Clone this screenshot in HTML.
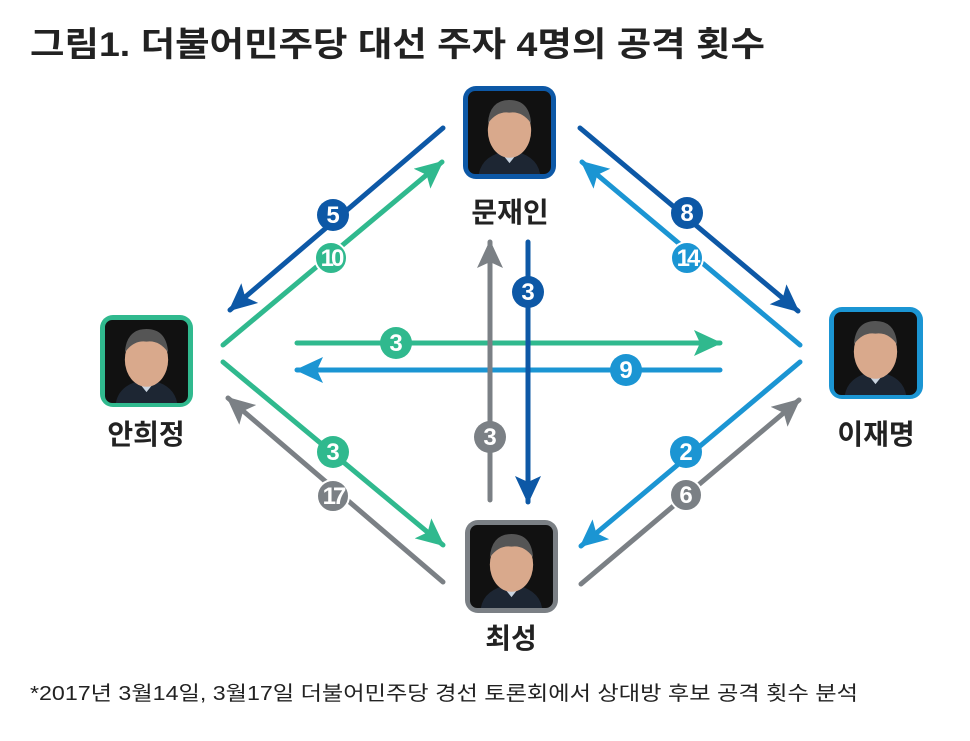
<!DOCTYPE html>
<html><head><meta charset="utf-8"><style>
html,body{margin:0;padding:0;background:#fff;}
svg{display:block;}
text{font-family:"Liberation Sans","Noto Sans CJK KR",sans-serif;}
</style></head><body>
<svg width="970" height="741" viewBox="0 0 970 741" xmlns="http://www.w3.org/2000/svg">
<defs>
<marker id="mD" markerUnits="userSpaceOnUse" markerWidth="30" markerHeight="30" refX="26" refY="13" orient="auto"><path d="M0,0 L28,13 L0,26 L6,13 Z" fill="#0d58a6"/></marker>
<marker id="mG" markerUnits="userSpaceOnUse" markerWidth="30" markerHeight="30" refX="26" refY="13" orient="auto"><path d="M0,0 L28,13 L0,26 L6,13 Z" fill="#30b98e"/></marker>
<marker id="mL" markerUnits="userSpaceOnUse" markerWidth="30" markerHeight="30" refX="26" refY="13" orient="auto"><path d="M0,0 L28,13 L0,26 L6,13 Z" fill="#1b95d3"/></marker>
<marker id="mY" markerUnits="userSpaceOnUse" markerWidth="30" markerHeight="30" refX="26" refY="13" orient="auto"><path d="M0,0 L28,13 L0,26 L6,13 Z" fill="#7b8085"/></marker>
<g id="face">
<rect x="0" y="0" width="92" height="92" rx="8" fill="#111"/>
<path d="M12,92 Q16,70 46,66 Q76,70 80,92 Z" fill="#1d2633"/>
<path d="M38,70 L46,80 L54,70 Z" fill="#c9d3df"/>
<ellipse cx="46" cy="44" rx="24" ry="30" fill="#d9a98c"/>
<path d="M22,36 Q24,10 46,10 Q68,10 70,36 Q60,22 46,24 Q32,22 22,36 Z" fill="#555"/>
</g>
</defs>
<text x="30" y="56" font-size="34" font-weight="bold" fill="#222" textLength="735" lengthAdjust="spacingAndGlyphs">그림1. 더불어민주당 대선 주자 4명의 공격 횟수</text>

<rect x="463" y="86" width="93" height="93" rx="13" fill="#0d58a6"/>
<use href="#face" transform="translate(468,91) scale(0.902)"/>
<rect x="100" y="315" width="93" height="92" rx="13" fill="#30b98e"/>
<use href="#face" transform="translate(105,320) scale(0.902)"/>
<rect x="829" y="307" width="94" height="92" rx="13" fill="#1b95d3"/>
<use href="#face" transform="translate(834,312) scale(0.902)"/>
<rect x="465" y="520" width="93" height="93" rx="13" fill="#7b8085"/>
<use href="#face" transform="translate(470,525) scale(0.902)"/>

<g font-size="28" font-weight="bold" fill="#222" text-anchor="middle">
<text x="510" y="222">문재인</text>
<text x="146" y="444">안희정</text>
<text x="876" y="444">이재명</text>
<text x="511" y="648">최성</text>
</g>

<g stroke-width="5" stroke-linecap="round" fill="none">
<line x1="443" y1="128" x2="230" y2="310" stroke="#0d58a6" marker-end="url(#mD)"/>
<line x1="223" y1="345" x2="442" y2="162" stroke="#30b98e" marker-end="url(#mG)"/>
<line x1="580" y1="128" x2="798" y2="311" stroke="#0d58a6" marker-end="url(#mD)"/>
<line x1="800" y1="345" x2="582" y2="162" stroke="#1b95d3" marker-end="url(#mL)"/>
<line x1="297" y1="343" x2="720" y2="343" stroke="#30b98e" marker-end="url(#mG)"/>
<line x1="720" y1="370" x2="297" y2="370" stroke="#1b95d3" marker-end="url(#mL)"/>
<line x1="490" y1="500" x2="490" y2="242" stroke="#7b8085" marker-end="url(#mY)"/>
<line x1="528" y1="242" x2="528" y2="502" stroke="#0d58a6" marker-end="url(#mD)"/>
<line x1="223" y1="362" x2="443" y2="545" stroke="#30b98e" marker-end="url(#mG)"/>
<line x1="443" y1="582" x2="228" y2="398" stroke="#7b8085" marker-end="url(#mY)"/>
<line x1="800" y1="362" x2="581" y2="546" stroke="#1b95d3" marker-end="url(#mL)"/>
<line x1="581" y1="584" x2="799" y2="400" stroke="#7b8085" marker-end="url(#mY)"/>
</g>

<g font-size="24" font-weight="bold" fill="#fff" text-anchor="middle">
<circle cx="333" cy="215" r="16" fill="#0d58a6"/><text x="333" y="223">5</text>
<circle cx="331" cy="258" r="16" fill="#30b98e" stroke="#fff" stroke-width="2"/><text x="331" y="266" letter-spacing="-3">10</text>
<circle cx="687" cy="213" r="16" fill="#0d58a6"/><text x="687" y="221">8</text>
<circle cx="687" cy="258" r="16" fill="#1b95d3" stroke="#fff" stroke-width="2"/><text x="687" y="266" letter-spacing="-3">14</text>
<circle cx="396" cy="343" r="16" fill="#30b98e"/><text x="396" y="351">3</text>
<circle cx="626" cy="370" r="16" fill="#1b95d3"/><text x="626" y="378">9</text>
<circle cx="490" cy="437" r="16" fill="#7b8085"/><text x="490" y="445">3</text>
<circle cx="528" cy="292" r="16" fill="#0d58a6"/><text x="528" y="300">3</text>
<circle cx="333" cy="452" r="16" fill="#30b98e"/><text x="333" y="460">3</text>
<circle cx="333" cy="496" r="16" fill="#7b8085" stroke="#fff" stroke-width="2"/><text x="333" y="504" letter-spacing="-3">17</text>
<circle cx="686" cy="452" r="16" fill="#1b95d3"/><text x="686" y="460">2</text>
<circle cx="686" cy="495" r="16" fill="#7b8085" stroke="#fff" stroke-width="2"/><text x="686" y="503">6</text>
</g>

<text x="30" y="700" font-size="20" fill="#222" textLength="828" lengthAdjust="spacingAndGlyphs">*2017년 3월14일, 3월17일 더불어민주당 경선 토론회에서 상대방 후보 공격 횟수 분석</text>
</svg>
</body></html>
